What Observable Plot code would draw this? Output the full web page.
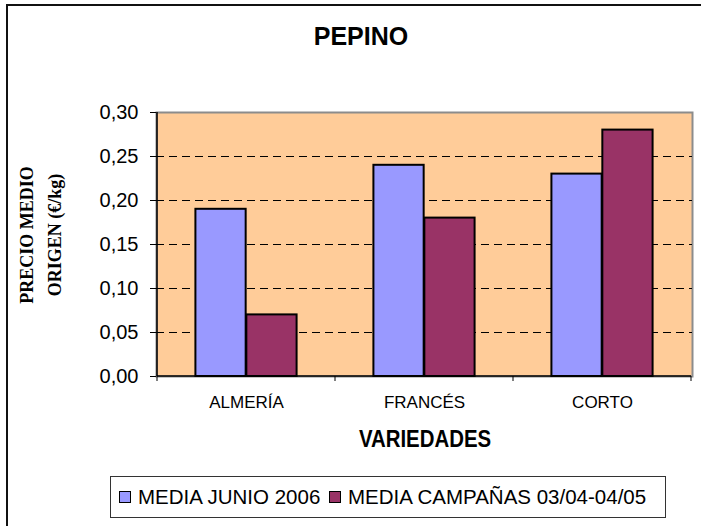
<!DOCTYPE html>
<html>
<head>
<meta charset="utf-8">
<script src="https://cdn.jsdelivr.net/npm/d3@7"></script>
<script src="https://cdn.jsdelivr.net/npm/@observablehq/plot@0.6"></script>
<style>
  html, body { margin: 0; padding: 0; background: #fff; }
  #wrap { position: relative; width: 701px; height: 526px; overflow: hidden; background: #fff; font-family: "Liberation Sans", Arial, sans-serif; }
  #outer { position: absolute; left: 6px; top: 4px; right: -10px; bottom: -10px; border-left: 2px solid #111; border-top: 2px solid #111; }
  #chart { position: absolute; left: 0; top: 0; }
  .abs { position: absolute; white-space: nowrap; color: #000; }
  #title { left: 361px; top: 24px; font-size: 25px; line-height: 25px; font-weight: bold; transform: translateX(-50%); }
  #xlabel { left: 425px; top: 427px; font-size: 24px; line-height: 24px; font-weight: bold; transform: translateX(-50%) scaleX(0.85); }
  #ylabel { left: 41px; top: 235px; font-family: "Liberation Serif", "Times New Roman", serif; font-weight: bold; font-size: 18px; line-height: 28px; text-align: center; transform: translate(-50%, -50%) rotate(-90deg); }
  #legend { left: 110px; top: 476px; width: 554px; height: 40px; border: 1px solid #333; background: #fff; }
  .sw { position: absolute; width: 10px; height: 10px; border: 1px solid #000; top: 14px; }
  .lt { position: absolute; top: 9px; font-size: 20.5px; line-height: 21px; white-space: nowrap; }
</style>
</head>
<body>
<div id="wrap">
  <div id="outer"></div>
  <div id="chart"></div>
  <div class="abs" id="title"></div>
  <div class="abs" id="xlabel"></div>
  <div class="abs" id="ylabel"></div>
  <div class="abs" id="legend"></div>
</div>
<script>
// ---- data ----
const titleText = "PEPINO";
const xTitle = "VARIEDADES";
const yTitleLines = ["PRECIO MEDIO", "ORIGEN (€/kg)"];
const categories = ["ALMERÍA", "FRANCÉS", "CORTO"];
const seriesNames = ["MEDIA JUNIO 2006", "MEDIA CAMPAÑAS 03/04-04/05"];
const mediaJunio2006 = [0.19, 0.24, 0.23];
const mediaCampanas = [0.07, 0.18, 0.28];
const yTicks = [0, 0.05, 0.10, 0.15, 0.20, 0.25, 0.30];
const seriesColors = ["#9999FF", "#993366"];

// ---- layout ----
const W = 701, H = 526;
const mL = 156, mR = 9, mT = 112, mB = 150;
const bw = (W - mL - mR) / categories.length;
const barW = bw * 0.285;
const gap = (bw - 2 * barW) / 2;

const table = categories.map((c, i) => ({cat: c, a: mediaJunio2006[i], b: mediaCampanas[i]}));

const chart = Plot.plot({
  width: W, height: H,
  marginLeft: mL, marginRight: mR, marginTop: mT, marginBottom: mB,
  style: {fontFamily: "'Liberation Sans', Arial, sans-serif", background: "transparent", color: "#000", overflow: "visible"},
  x: {domain: categories, padding: 0},
  y: {domain: [0, 0.3]},
  marks: [
    Plot.frame({fill: "#FFCC99", stroke: "#8c8c8c", strokeWidth: 2}),
    Plot.ruleY(yTicks.slice(1, -1), {stroke: "#000", strokeWidth: 1, strokeDasharray: "8,5"}),
    Plot.barY(table, {x: "cat", y: "a", fill: seriesColors[0], stroke: "#000", strokeWidth: 2,
      insetLeft: gap, insetRight: bw - gap - barW}),
    Plot.barY(table, {x: "cat", y: "b", fill: seriesColors[1], stroke: "#000", strokeWidth: 2,
      insetLeft: gap + barW, insetRight: gap}),
    Plot.axisY({ticks: yTicks, tickFormat: d => d.toFixed(2).replace(".", ","), tickSize: 6, tickPadding: 12, fontSize: 20, label: null}),
    Plot.axisX({tickSize: 0, tickPadding: 19, fontSize: 17, label: null})
  ]
});
document.getElementById("chart").appendChild(chart);

// axis lines and category boundary ticks from the library's scales
const xs = chart.scale("x"), ys = chart.scale("y");
const svg = d3.select(chart);
const y0 = ys.apply(0), yTop = ys.apply(0.3);
const x0 = xs.apply(categories[0]);
const xEnd = xs.apply(categories[categories.length - 1]) + xs.bandwidth;
const g = svg.append("g").attr("stroke", "#000");
g.append("line").attr("x1", x0).attr("x2", x0).attr("y1", yTop).attr("y2", y0).attr("stroke-width", 1.5);
g.append("line").attr("x1", x0).attr("x2", xEnd).attr("y1", y0).attr("y2", y0).attr("stroke-width", 1.5);
const bounds = categories.map(c => xs.apply(c)).concat([xEnd]);
g.selectAll(".bt").data(bounds).join("line").attr("x1", d => d).attr("x2", d => d).attr("y1", y0).attr("y2", y0 + 5).attr("stroke-width", 1);

// text
document.getElementById("title").textContent = titleText;
document.getElementById("xlabel").textContent = xTitle;
document.getElementById("ylabel").innerHTML = yTitleLines.join("<br>");

// legend
const leg = document.getElementById("legend");
const swX = [8, 218], txX = [27, 237];
seriesNames.forEach((n, i) => {
  const s = document.createElement("div");
  s.className = "sw"; s.style.left = swX[i] + "px"; s.style.background = seriesColors[i];
  leg.appendChild(s);
  const t = document.createElement("div");
  t.className = "lt"; t.style.left = txX[i] + "px"; t.textContent = n;
  leg.appendChild(t);
});
</script>
</body>
</html>
